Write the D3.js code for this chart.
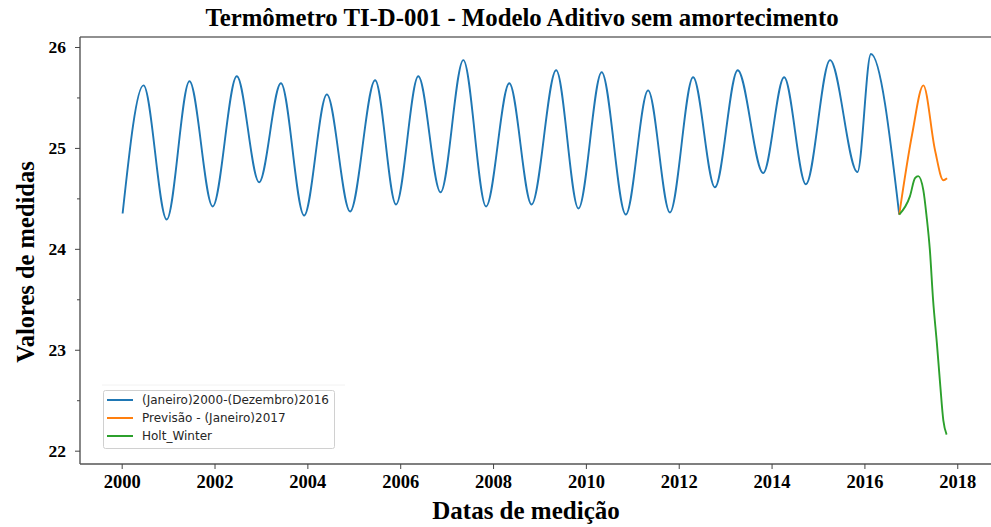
<!DOCTYPE html>
<html lang="pt">
<head>
    <meta charset="UTF-8">
    <title>Termômetro TI-D-001</title>
    <script src="https://d3js.org/d3.v7.min.js"></script>
    <style>
        body {
            margin: 0;
            background: #fff;
        }

        svg {
            display: block;
        }

        .tick-label {
            font-family: "Liberation Serif", "Times New Roman", serif;
            font-weight: bold;
            fill: #000;
        }

        .legend text {
            font-family: "DejaVu Sans", sans-serif;
            font-size: 12px;
            fill: #262626;
        }
    </style>
</head>
<body>
<svg id="chart"></svg>
<script>

    // Series (fractional year, value)
    const histYears = [2000.02, 2000.47, 2000.97, 2001.46, 2001.96, 2002.48, 2002.96, 2003.43, 2003.93,
        2004.42, 2004.92, 2005.46, 2005.91, 2006.39, 2006.87, 2007.36, 2007.85, 2008.35, 2008.83,
        2009.36, 2009.84, 2010.34, 2010.86, 2011.34, 2011.81, 2012.31, 2012.78, 2013.27, 2013.82,
        2014.27, 2014.74, 2015.26, 2015.85, 2016.14, 2016.75];
    const histValues = [24.35, 25.62, 24.29, 25.66, 24.42, 25.71, 24.66, 25.64, 24.33,
        25.53, 24.37, 25.67, 24.44, 25.71, 24.56, 25.87, 24.42, 25.64, 24.44,
        25.77, 24.40, 25.75, 24.34, 25.57, 24.36, 25.70, 24.61, 25.77, 24.75,
        25.70, 24.64, 25.87, 24.76, 25.93, 24.34];

    const forecastYears = [2016.75, 2017.03, 2017.27, 2017.52, 2017.70, 2017.78];
    const forecastValues = [24.34, 25.14, 25.62, 24.98, 24.68, 24.70];

    const hwYears = [2016.75, 2016.98, 2017.09, 2017.16, 2017.27, 2017.34, 2017.41, 2017.48,
        2017.56, 2017.63, 2017.70, 2017.77];
    const hwValues = [24.34, 24.52, 24.70, 24.72, 24.58, 24.32, 23.99, 23.49,
        23.07, 22.67, 22.30, 22.16];

    const xTicks = [2000, 2002, 2004, 2006, 2008, 2010, 2012, 2014, 2016, 2018];
    const yTicks = [22, 23, 24, 25, 26];
    const yMinorTicks = [22.5, 23.5, 24.5, 25.5];

    const seriesNames = ["(Janeiro)2000-(Dezembro)2016", "Previsão - (Janeiro)2017", "Holt_Winter"];
    const seriesColors = ["#1f77b4", "#ff7f0e", "#2ca02c"];

    const width = 991;
    const height = 527;
    const plot = {left: 80, right: 991, top: 37, bottom: 464};

    const svg = d3.select("#chart")
        .attr("width", width)
        .attr("height", height);

    const x = d3.scaleLinear()
        .domain([1999.102, 2018.727])
        .range([plot.left, plot.right]);

    const y = d3.scaleLinear()
        .domain([21.868, 26.099])
        .range([plot.bottom, plot.top]);

    // Lines
    const line = d3.line()
        .x(d => x(d[0]))
        .y(d => y(d[1]))
        .curve(d3.curveMonotoneX);

    const series = [
        d3.zip(histYears, histValues),
        d3.zip(forecastYears, forecastValues),
        d3.zip(hwYears, hwValues)
    ];

    svg.append("g")
        .selectAll("path")
        .data(series)
        .enter().append("path")
        .attr("d", line)
        .attr("fill", "none")
        .attr("stroke", (d, i) => seriesColors[i])
        .attr("stroke-width", 1.9)
        .attr("stroke-linejoin", "round");

    // Spines
    svg.append("line")
        .attr("x1", plot.left).attr("x2", plot.right)
        .attr("y1", plot.top).attr("y2", plot.top)
        .attr("stroke", "#222").attr("stroke-width", 1.2);
    svg.append("line")
        .attr("x1", plot.left).attr("x2", plot.right)
        .attr("y1", plot.bottom).attr("y2", plot.bottom)
        .attr("stroke", "#555").attr("stroke-width", 1.4);
    svg.append("line")
        .attr("x1", plot.left).attr("x2", plot.left)
        .attr("y1", plot.top).attr("y2", plot.bottom)
        .attr("stroke", "#555").attr("stroke-width", 1.4);

    // X axis
    const xAxis = svg.append("g")
        .attr("transform", `translate(0,${plot.bottom})`)
        .call(d3.axisBottom(x).tickValues(xTicks).tickFormat(d3.format("d")).tickSize(5).tickPadding(6));
    xAxis.select(".domain").remove();
    xAxis.selectAll(".tick line").attr("stroke", "#444");
    xAxis.selectAll(".tick text")
        .attr("class", "tick-label")
        .style("font-size", "18.5px")
        .attr("dy", "0.68em");

    // Y axis
    const yAxis = svg.append("g")
        .attr("transform", `translate(${plot.left},0)`)
        .call(d3.axisLeft(y).tickValues(yTicks).tickFormat(d3.format("d")).tickSize(5).tickPadding(9));
    yAxis.select(".domain").remove();
    yAxis.selectAll(".tick line").attr("stroke", "#444");
    yAxis.selectAll(".tick text")
        .attr("class", "tick-label")
        .style("font-size", "17.5px");

    const yMinor = svg.append("g")
        .attr("transform", `translate(${plot.left},0)`)
        .call(d3.axisLeft(y).tickValues(yMinorTicks).tickFormat("").tickSize(3));
    yMinor.select(".domain").remove();
    yMinor.selectAll(".tick line").attr("stroke", "#444");

    // Titles
    svg.append("text")
        .attr("x", 522)
        .attr("y", 26)
        .attr("text-anchor", "middle")
        .style("font-family", '"Liberation Serif", "Times New Roman", serif')
        .style("font-weight", "bold")
        .style("font-size", "24.8px")
        .text("Termômetro TI-D-001 - Modelo Aditivo sem amortecimento");

    svg.append("text")
        .attr("x", 526)
        .attr("y", 519)
        .attr("text-anchor", "middle")
        .style("font-family", '"Liberation Serif", "Times New Roman", serif')
        .style("font-weight", "bold")
        .style("font-size", "25px")
        .text("Datas de medição");

    svg.append("text")
        .attr("transform", "translate(34,262) rotate(-90)")
        .attr("text-anchor", "middle")
        .style("font-family", '"Liberation Serif", "Times New Roman", serif')
        .style("font-weight", "bold")
        .style("font-size", "24.5px")
        .text("Valores de medidas");

    // Legend
    svg.append("line")
        .attr("x1", 102).attr("x2", 345)
        .attr("y1", 385).attr("y2", 385)
        .attr("stroke", "#f2f2f2").attr("stroke-width", 1);

    const legend = svg.append("g").attr("class", "legend");
    legend.append("rect")
        .attr("x", 103.5).attr("y", 390.5)
        .attr("width", 231).attr("height", 58)
        .attr("rx", 2)
        .attr("fill", "#fff")
        .attr("fill-opacity", 0.8)
        .attr("stroke", "#d0d0d0");

    const entry = legend.selectAll(".entry")
        .data(seriesNames)
        .enter().append("g")
        .attr("class", "entry")
        .attr("transform", (d, i) => `translate(107,${400 + i * 18})`);
    entry.append("line")
        .attr("x1", 0).attr("x2", 26)
        .attr("stroke", (d, i) => seriesColors[i])
        .attr("stroke-width", 2);
    entry.append("text")
        .attr("x", 35)
        .attr("dy", "0.35em")
        .text(d => d);
</script>
</body>
</html>
